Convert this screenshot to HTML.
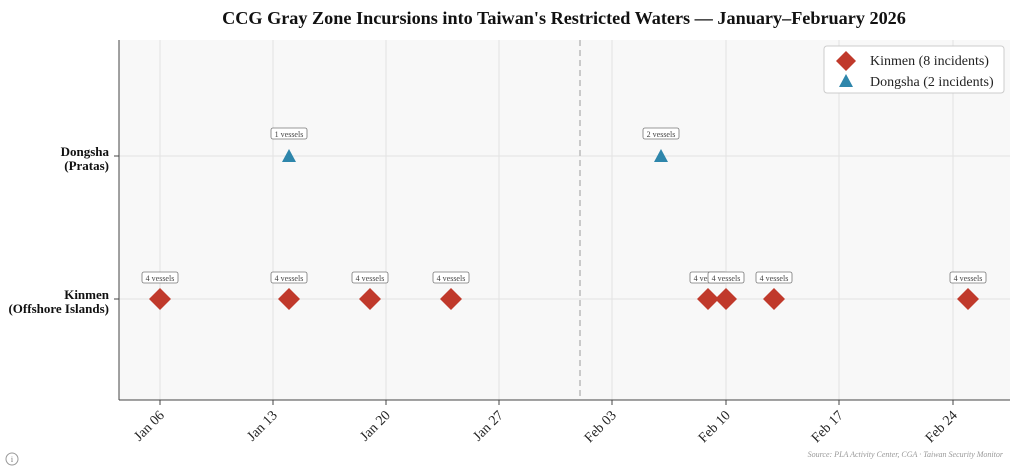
<!DOCTYPE html>
<html><head><meta charset="utf-8"><style>body{margin:0;background:#fff}svg{display:block}</style></head><body>
<svg width="1024" height="469" xmlns="http://www.w3.org/2000/svg" font-family="Liberation Serif, serif">
<text x="564" y="24" text-anchor="middle" font-size="18.2" font-weight="bold" fill="#111">CCG Gray Zone Incursions into Taiwan's Restricted Waters — January–February 2026</text>
<rect x="119" y="40" width="891" height="360" fill="#f8f8f8"/>
<g stroke="#e2e2e2" stroke-width="1">
<line x1="160" y1="40" x2="160" y2="400"/><line x1="273" y1="40" x2="273" y2="400"/><line x1="386" y1="40" x2="386" y2="400"/><line x1="499" y1="40" x2="499" y2="400"/><line x1="612" y1="40" x2="612" y2="400"/><line x1="726" y1="40" x2="726" y2="400"/><line x1="839" y1="40" x2="839" y2="400"/><line x1="953" y1="40" x2="953" y2="400"/>
<line x1="119" y1="156" x2="1010" y2="156"/><line x1="119" y1="299" x2="1010" y2="299"/>
</g>
<line x1="580" y1="40" x2="580" y2="400" stroke="#bbb" stroke-width="1.5" stroke-dasharray="6,4"/>
<g stroke="#444" stroke-width="1"><line x1="119" y1="40" x2="119" y2="400"/><line x1="119" y1="400" x2="1010" y2="400"/>
<line x1="114" y1="156" x2="119" y2="156"/><line x1="114" y1="299" x2="119" y2="299"/>
<line x1="160" y1="400" x2="160" y2="405"/><line x1="273" y1="400" x2="273" y2="405"/><line x1="386" y1="400" x2="386" y2="405"/><line x1="499" y1="400" x2="499" y2="405"/><line x1="612" y1="400" x2="612" y2="405"/><line x1="726" y1="400" x2="726" y2="405"/><line x1="839" y1="400" x2="839" y2="405"/><line x1="953" y1="400" x2="953" y2="405"/></g>
<g font-size="13" font-weight="bold" text-anchor="end" fill="#111">
<text x="109" y="156">Dongsha</text><text x="109" y="170">(Pratas)</text>
<text x="109" y="299">Kinmen</text><text x="109" y="313">(Offshore Islands)</text></g>
<g font-size="14" fill="#222" text-anchor="end">
<text transform="translate(165,416) rotate(-45)">Jan 06</text><text transform="translate(278,416) rotate(-45)">Jan 13</text><text transform="translate(391,416) rotate(-45)">Jan 20</text><text transform="translate(504,416) rotate(-45)">Jan 27</text><text transform="translate(617,416) rotate(-45)">Feb 03</text><text transform="translate(731,416) rotate(-45)">Feb 10</text><text transform="translate(844,416) rotate(-45)">Feb 17</text><text transform="translate(958,416) rotate(-45)">Feb 24</text></g>
<g fill="#c0392b">
<path d="M160 288l11 11-11 11-11-11z"/><path d="M289 288l11 11-11 11-11-11z"/><path d="M370 288l11 11-11 11-11-11z"/><path d="M451 288l11 11-11 11-11-11z"/><path d="M708 288l11 11-11 11-11-11z"/><path d="M726 288l11 11-11 11-11-11z"/><path d="M774 288l11 11-11 11-11-11z"/><path d="M968 288l11 11-11 11-11-11z"/></g>
<g fill="#2e86ab"><path d="M289 149l7 13h-14z"/><path d="M661 149l7 13h-14z"/></g>
<g font-size="8" fill="#444" text-anchor="middle">
<g><rect x="271" y="128" width="36" height="11" rx="2" fill="#fff" stroke="#777" stroke-width="0.8"/><text x="289" y="137">1 vessels</text></g>
<g><rect x="643" y="128" width="36" height="11" rx="2" fill="#fff" stroke="#777" stroke-width="0.8"/><text x="661" y="137">2 vessels</text></g>
<g><rect x="142" y="272" width="36" height="11" rx="2" fill="#fff" stroke="#777" stroke-width="0.8"/><text x="160" y="281">4 vessels</text></g>
<g><rect x="271" y="272" width="36" height="11" rx="2" fill="#fff" stroke="#777" stroke-width="0.8"/><text x="289" y="281">4 vessels</text></g>
<g><rect x="352" y="272" width="36" height="11" rx="2" fill="#fff" stroke="#777" stroke-width="0.8"/><text x="370" y="281">4 vessels</text></g>
<g><rect x="433" y="272" width="36" height="11" rx="2" fill="#fff" stroke="#777" stroke-width="0.8"/><text x="451" y="281">4 vessels</text></g>
<g><rect x="690" y="272" width="36" height="11" rx="2" fill="#fff" stroke="#777" stroke-width="0.8"/><text x="708" y="281">4 vessels</text></g>
<g><rect x="708" y="272" width="36" height="11" rx="2" fill="#fff" stroke="#777" stroke-width="0.8"/><text x="726" y="281">4 vessels</text></g>
<g><rect x="756" y="272" width="36" height="11" rx="2" fill="#fff" stroke="#777" stroke-width="0.8"/><text x="774" y="281">4 vessels</text></g>
<g><rect x="950" y="272" width="36" height="11" rx="2" fill="#fff" stroke="#777" stroke-width="0.8"/><text x="968" y="281">4 vessels</text></g>
</g>
<rect x="824" y="46" width="180" height="47" rx="3" fill="#fff" stroke="#ccc"/>
<path d="M846 51l10 10-10 10-10-10z" fill="#c0392b"/><path d="M846 74l7 13h-14z" fill="#2e86ab"/>
<g font-size="14" fill="#222"><text x="870" y="65">Kinmen (8 incidents)</text><text x="870" y="86">Dongsha (2 incidents)</text></g>
<text x="1003" y="457" text-anchor="end" font-size="8" font-style="italic" fill="#999">Source: PLA Activity Center, CGA · Taiwan Security Monitor</text>
<circle cx="12" cy="459" r="6" fill="none" stroke="#999"/><text x="12" y="462" text-anchor="middle" font-size="8" fill="#777">i</text>
</svg>
</body></html>
